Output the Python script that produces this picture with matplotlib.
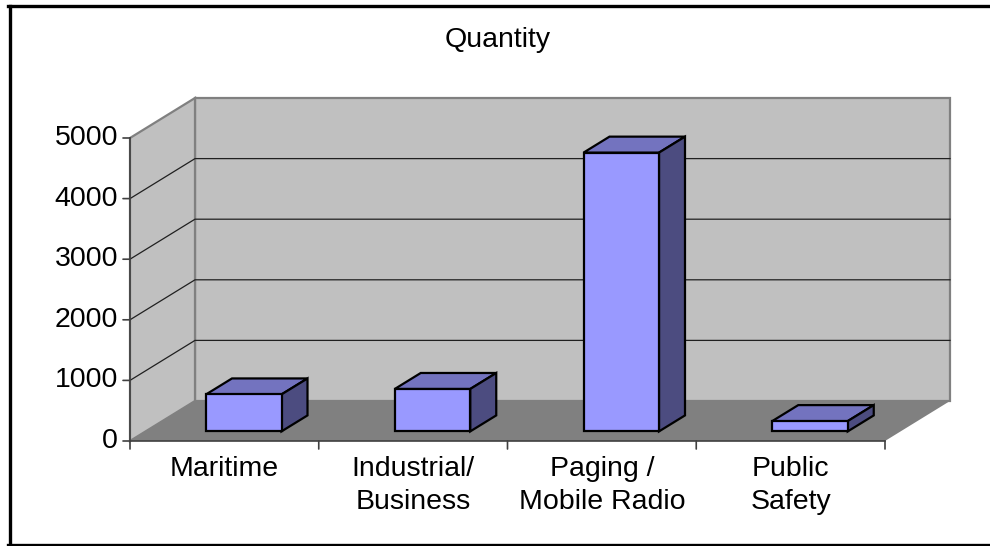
import numpy as np
import matplotlib
matplotlib.use("Agg")
import matplotlib.pyplot as plt
from matplotlib.patches import Polygon
from matplotlib.lines import Line2D

# ── Data ──────────────────────────────────────────────────────────────────────
categories = ["Maritime", "Industrial/\nBusiness", "Paging /\nMobile Radio", "Public\nSafety"]
values     = [610, 700, 4600, 170]
y_ticks    = [0, 1000, 2000, 3000, 4000, 5000]
title      = "Quantity"

# ── Style / geometry ──────────────────────────────────────────────────────────
WALL    = "#C0C0C0"
FLOOR   = "#808080"
EDGE    = "#808080"
FRONT   = "#9999FF"
TOP     = "#7373BF"
SIDE    = "#4C4C80"
FONT    = "Liberation Sans"
FS      = 20.5

YMAX    = 5000
NCAT    = len(categories)
PX_CAT  = 188.75          # pixels per category
PX_VAL  = 60.6 / 1000     # pixels per value unit
DX      = 65 / PX_CAT     # depth offset (full depth) in x data units
DY      = 40 / PX_VAL     # depth offset in y data units
Z0, Z1  = 0.24, 0.64      # bar depth range
B0, B1  = 0.32, 0.72      # bar span within a category

W, H = 990, 546
fig = plt.figure(figsize=(W / 100, H / 100), dpi=100)
ax = fig.add_axes([0, 0, 1, 1])
# front-left corner of plot at pixel (130, 441)
ax.set_xlim(-130 / PX_CAT, (W - 130) / PX_CAT)
ax.set_ylim((441 - H) / PX_VAL, 441 / PX_VAL)
ax.axis("off")


def P(x, y, z):
    return (x + z * DX, y + z * DY)


def poly(pts, fc, ec, lw, zo):
    ax.add_patch(Polygon(pts, closed=True, facecolor=fc, edgecolor=ec,
                         linewidth=lw, zorder=zo, joinstyle="miter"))


# walls and floor
poly([P(0, 0, 1), P(NCAT, 0, 1), P(NCAT, YMAX, 1), P(0, YMAX, 1)], WALL, EDGE, 1.6, 1)
poly([P(0, 0, 0), P(0, 0, 1), P(0, YMAX, 1), P(0, YMAX, 0)], WALL, EDGE, 1.6, 1)
poly([P(0, 0, 0), P(NCAT, 0, 0), P(NCAT, 0, 1), P(0, 0, 1)], FLOOR, "none", 0, 2)

# gridlines
for v in y_ticks[1:-1]:
    xs, ys = zip(P(0, v, 0), P(0, v, 1), P(NCAT, v, 1))
    ax.plot(xs, ys, color="#202020", lw=0.9, zorder=3)

# axes
ax.plot([0, 0], [0, YMAX], color="#404040", lw=1.2, zorder=4)
ax.plot([0, NCAT], [0, 0], color="#404040", lw=1.2, zorder=4)
for v in y_ticks:
    ax.annotate("", xy=(0, v), xytext=(-7, 0), textcoords="offset pixels",
                arrowprops=dict(arrowstyle="-", color="#404040", lw=1.2,
                                shrinkA=0, shrinkB=0))
    ax.annotate(f"{v}", xy=(0, v), xytext=(-12, 0), textcoords="offset pixels",
                ha="right", va="center", fontsize=FS, family=FONT)
for i in range(NCAT + 1):
    ax.annotate("", xy=(i, 0), xytext=(0, -8), textcoords="offset pixels",
                arrowprops=dict(arrowstyle="-", color="#404040", lw=1.2,
                                shrinkA=0, shrinkB=0))

# bars
for i, v in enumerate(values):
    x0, x1 = i + B0, i + B1
    poly([P(x0, 0, Z0), P(x1, 0, Z0), P(x1, v, Z0), P(x0, v, Z0)], FRONT, "black", 1.6, 6)
    poly([P(x0, v, Z0), P(x1, v, Z0), P(x1, v, Z1), P(x0, v, Z1)], TOP, "black", 1.6, 5)
    poly([P(x1, 0, Z0), P(x1, 0, Z1), P(x1, v, Z1), P(x1, v, Z0)], SIDE, "black", 1.6, 5)
    ax.annotate(categories[i], xy=(i + 0.5, 0), xytext=(0, -15),
                textcoords="offset pixels", ha="center", va="top",
                fontsize=FS, family=FONT, linespacing=1.35, multialignment="center")

# title
fig.text(498 / W, 1 - 47 / H, title, ha="center", va="baseline",
         fontsize=FS, family=FONT)

# outer frame
fig.add_artist(Line2D([9.5 / W, 9.5 / W], [1 - 5.5 / H, 1 - 544.5 / H], color="black", lw=2.4))
fig.add_artist(Line2D([8 / W, 1], [1 - 5.5 / H, 1 - 5.5 / H], color="black", lw=2.4))
fig.add_artist(Line2D([8 / W, 1], [1 - 544.5 / H, 1 - 544.5 / H], color="black", lw=2.4))

fig.savefig("out.png", dpi=100)
